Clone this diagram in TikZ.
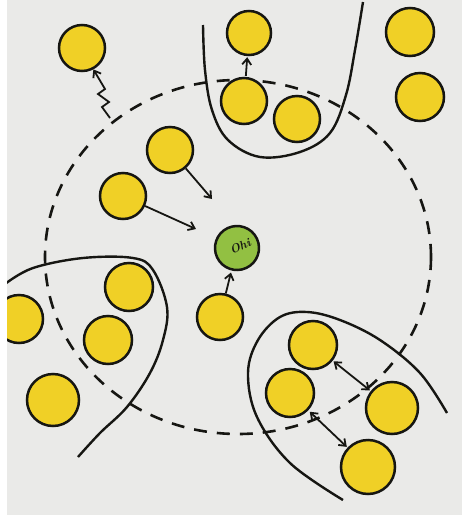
\documentclass[tikz,border=0pt]{standalone}
\usetikzlibrary{arrows.meta}
\definecolor{bg}{RGB}{234,234,232}
\definecolor{ballyellow}{RGB}{240,208,38}
\definecolor{ballgreen}{RGB}{146,192,66}
\definecolor{ink}{RGB}{22,22,18}
\tikzset{
  ball/.style={circle, draw=ink, line width=2.5pt, fill=ballyellow, minimum size=46pt, inner sep=0pt},
  greenball/.style={ball, fill=ballgreen, minimum size=44pt, text=ink, font=\itshape\bfseries\large},
  arr/.style={draw=ink, line width=1.8pt, -{Straight Barb[length=6pt,width=9pt]}},
  dbl/.style={draw=ink, line width=1.8pt, {Straight Barb[length=6pt,width=9pt]}-{Straight Barb[length=6pt,width=9pt]}},
  boundary/.style={draw=ink, line width=2.6pt, dash pattern=on 13pt off 10pt},
  wall/.style={draw=ink, line width=2.4pt}
}
\begin{document}
\begin{tikzpicture}[x=1pt, y=-1pt]
\useasboundingbox (0,0) rectangle (462,515);
\fill[white] (0,0) rectangle (462,515);
\fill[bg] (7,0) rectangle (462,515);
\begin{scope}
\clip (7,0) rectangle (462,515);
% dashed boundary
\draw[boundary] (238,257) ellipse [x radius=193, y radius=177];
% solid U-shaped walls
\draw[wall] plot[smooth, tension=0.6] coordinates {(203,25) (205,70) (212,110) (228,140) (260,157) (300,152) (330,133) (346,95) (355,50) (363,2)};
\draw[wall] plot[smooth, tension=0.6] coordinates {(5,284) (33,268) (83,258) (133,258) (153,270) (167,307) (163,340) (150,373) (127,407) (100,433) (78,457)};
\draw[wall] plot[smooth, tension=0.6] coordinates {(447,413) (420,373) (380,340) (340,320) (307,312) (280,317) (258,340) (248,373) (257,417) (290,463) (343,500)};
% balls
\node[ball] (a) at (82,48) {};
\node[ball, minimum size=44pt] (tc1) at (249,33) {};
\node[ball] (tc2) at (244,101) {};
\node[ball] (tc3) at (297,119) {};
\node[ball, minimum size=48pt] (tr1) at (410,32) {};
\node[ball, minimum size=48pt] (tr2) at (420,97) {};
\node[ball] (m1) at (170,150) {};
\node[ball] (m2) at (123,196) {};
\node[greenball, rotate=25] (g) at (237,248) {\hspace*{7pt}Ohi};
\node[ball] (m3) at (220,317) {};
\node[ball, minimum size=48pt] (l1) at (129,287) {};
\node[ball, minimum size=48pt] (l2) at (108,340) {};
\node[ball, minimum size=48pt] (l3) at (19,319) {};
\node[ball, minimum size=52pt] (l4) at (53,400) {};
\node[ball, minimum size=48pt] (b1) at (313,345) {};
\node[ball, minimum size=48pt] (b2) at (290,393) {};
\node[ball, minimum size=52pt] (b3) at (392,408) {};
\node[ball, minimum size=54pt] (b4) at (368,467) {};
\end{scope}
% arrows
\coordinate (t1) at (212,199);
\coordinate (t2) at (196,229);
\draw[arr] (m1) -- (t1);
\draw[arr] (m2) -- (t2);
\draw[arr, shorten >=2pt] (m3) -- (g);
\draw[arr, shorten >=1pt, shorten <=1pt] (tc2) -- (tc1);
\draw[dbl, shorten >=1pt, shorten <=1pt] (b1) -- (b3);
\draw[dbl, shorten >=1pt, shorten <=2pt] (b2) -- (b4);
% squiggly escape arrow
\coordinate (z0) at (110,118);
\draw[arr] (z0) -- (102,107) -- (109,102) -- (98,94) -- (105,89) -- (a.-62);
\end{tikzpicture}
\end{document}
